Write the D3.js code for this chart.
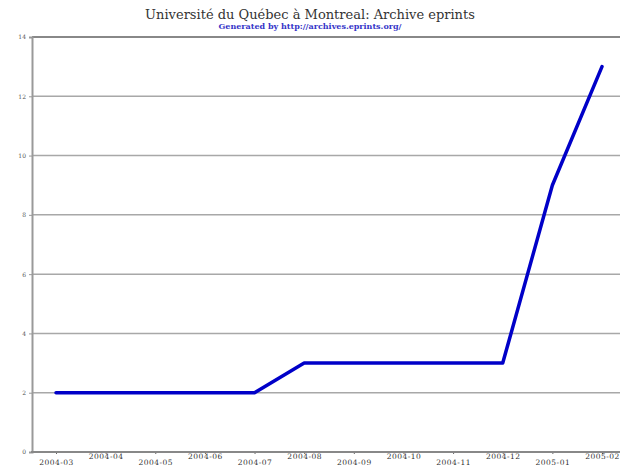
<!DOCTYPE html>
<html><head><meta charset="utf-8">
<script src="https://cdn.jsdelivr.net/npm/d3@7"></script>
<style>body{margin:0;background:#fff}svg{display:block}</style>
</head><body>
<script>
const months = ["2004-03","2004-04","2004-05","2004-06","2004-07","2004-08","2004-09","2004-10","2004-11","2004-12","2005-01","2005-02"];
const counts = [2,2,2,2,2,3,3,3,3,3,9,13];
const yTicks = [0,2,4,6,8,10,12,14];
const titleText = "Université du Québec à Montreal: Archive eprints";
const subtitleText = "Generated by http://archives.eprints.org/";

const W = 620, H = 465;
const svg = d3.select("body").append("svg").attr("width", W).attr("height", H);
const mLeft = 32, mRight = 624, mTop = 37, mBottom = 452;

const x = d3.scalePoint().domain(months).range([56, 602]);
const y = d3.scaleLinear().domain([0, 14]).range([mBottom, mTop]);

// gridlines
svg.append("g").selectAll("line").data(yTicks.filter(d => d > 0)).join("line")
  .attr("x1", mLeft).attr("x2", mRight)
  .attr("y1", d => y(d)).attr("y2", d => y(d))
  .attr("stroke", d => d === 14 ? "#888" : "#a8a8a8")
  .attr("stroke-width", d => d === 14 ? 2 : 1.5);

// y axis
const yAxis = d3.axisLeft(y).tickValues(yTicks).tickSize(3).tickFormat(d3.format("d"));
const gy = svg.append("g").attr("transform", `translate(${mLeft},0)`).call(yAxis);
gy.select(".domain").attr("stroke", "#999").attr("stroke-width", 2);
gy.selectAll(".tick line").attr("stroke", "#999");
gy.selectAll(".tick text").attr("font-family", "DejaVu Serif, serif").attr("font-size", 6).attr("fill", "#555").attr("x", -6);

// x axis
const xAxis = d3.axisBottom(x).tickSize(2).tickSizeOuter(0);
const gx = svg.append("g").attr("transform", `translate(0,${mBottom})`).call(xAxis);
gx.select(".domain").remove();
svg.append("line").attr("x1", mLeft - 1).attr("x2", mRight).attr("y1", mBottom).attr("y2", mBottom)
  .attr("stroke", "#888").attr("stroke-width", 2);
gx.selectAll(".tick line").attr("stroke", "#666");
gx.selectAll(".tick text")
  .attr("font-family", "DejaVu Serif, serif").attr("font-size", 7.5).attr("fill", "#333")
  .attr("letter-spacing", 0.5)
  .attr("dy", 0)
  .attr("y", (d, i) => i % 2 === 0 ? 12.5 : 7);

// line
const line = d3.line().x((d, i) => x(months[i])).y(d => y(d));
svg.append("path").datum(counts).attr("d", line)
  .attr("fill", "none").attr("stroke", "#0000c8").attr("stroke-width", 3.5)
  .attr("stroke-linejoin", "round").attr("stroke-linecap", "round");

// titles
svg.append("text").attr("x", 310).attr("y", 19).attr("text-anchor", "middle")
  .attr("font-family", "DejaVu Serif, serif").attr("font-size", 13).attr("fill", "#333")
  .text(titleText);
svg.append("text").attr("x", 310).attr("y", 29).attr("text-anchor", "middle")
  .attr("font-family", "DejaVu Serif, serif").attr("font-size", 8).attr("font-weight", "bold").attr("fill", "#3535c8")
  .text(subtitleText);
</script>
</body></html>
